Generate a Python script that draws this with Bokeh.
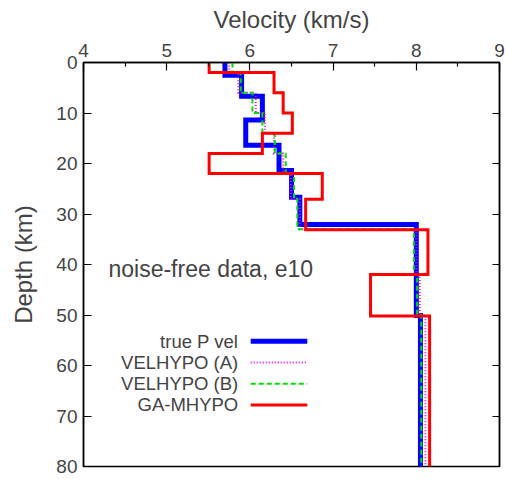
from bokeh.plotting import figure
from bokeh.models import Range1d, LinearAxis, Label, FixedTicker, CustomJSTickFormatter
from bokeh.embed import file_html
from bokeh.resources import INLINE

# ---- data (depth boundaries in km, layer velocities in km/s) ----
true_bounds = [0, 2.5, 6.7, 11.4, 16.4, 21.4, 26.7, 32.1, 50.1, 80]
true_vel = [5.70, 5.90, 6.15, 5.95, 6.35, 6.50, 6.60, 8.00, 8.05]

velA_bounds = [0, 2, 6, 10, 14, 18, 22, 27, 33, 42, 50, 80]
velA_vel = [5.75, 5.86, 6.07, 6.18, 6.29, 6.40, 6.49, 6.60, 8.00, 8.04, 8.11]

velB_bounds = [0, 2, 6, 10, 14, 18, 22, 27, 33, 42, 50, 80]
velB_vel = [5.79, 5.89, 6.03, 6.15, 6.30, 6.43, 6.53, 6.57, 7.97, 8.01, 8.06]

ga_bounds = [0, 2, 6, 10, 14, 18, 22, 27.1, 33.1, 42, 50.2, 80]
ga_vel = [5.51, 6.29, 6.40, 6.51, 6.15, 5.51, 6.87, 6.67, 8.14, 7.45, 8.16]

x_ticks = [4, 5, 6, 7, 8, 9]
x_minor = [4.5, 5.5, 6.5, 7.5, 8.5]
y_ticks = [0, 10, 20, 30, 40, 50, 60, 70, 80]

FONT = "Liberation Sans"


def steps(bounds, vels):
    xs, ys = [], []
    for i, v in enumerate(vels):
        xs += [v, v]
        ys += [bounds[i], bounds[i + 1]]
    return xs, ys


p = figure(width=506, height=476, output_backend="svg", toolbar_location=None,
           x_range=Range1d(4, 9), y_range=Range1d(80, 0),
           x_axis_location="above", min_border_left=83, min_border_right=7,
           min_border_top=62, min_border_bottom=10)
p.grid.visible = False
p.outline_line_color = "black"
p.outline_line_width = 1.5
p.background_fill_color = "white"
p.border_fill_color = "white"

xa = p.xaxis[0]
xa.ticker = FixedTicker(ticks=x_ticks, minor_ticks=x_minor)
xa.axis_label = "Velocity (km/s)"
ya = p.yaxis[0]
ya.ticker = FixedTicker(ticks=y_ticks)
ya.axis_label = "Depth (km)"
for ax in (xa, ya):
    ax.axis_label_text_font = FONT
    ax.axis_label_text_font_size = "24px"
    ax.axis_label_text_font_style = "normal"
    ax.major_label_text_font = FONT
    ax.major_label_text_font_size = "19px"
    ax.major_tick_in = 8
    ax.major_tick_out = 0
    ax.minor_tick_in = 4
    ax.minor_tick_out = 0
    ax.axis_line_width = 1.5
    ax.major_tick_line_width = 1.2
    ax.minor_tick_line_width = 1.2
    ax.major_label_standoff = 6
    ax.axis_label_standoff = 8
ya.minor_tick_line_color = None
ya.axis_label_standoff = 16

# mirrored right axis with ticks only
ra = LinearAxis(ticker=FixedTicker(ticks=y_ticks),
                formatter=CustomJSTickFormatter(code="return ''"),
                major_tick_in=7, major_tick_out=0, minor_tick_line_color=None,
                axis_line_width=1.5, major_tick_line_width=1.2, major_label_standoff=0)
p.add_layout(ra, "right")

series = [
    ("true P vel", true_bounds, true_vel, "#0000ff", 5, "solid"),
    ("VELHYPO (A)", velA_bounds, velA_vel, "#ff00ff", 2, "1 2"),
    ("VELHYPO (B)", velB_bounds, velB_vel, "#00e000", 2, "5 3"),
    ("GA-MHYPO", ga_bounds, ga_vel, "#ff0000", 3, "solid"),
]
for name, b, v, c, w, d in series:
    xs, ys = steps(b, v)
    p.line(xs, ys, line_color=c, line_width=w, line_dash=d, line_join="miter")

# custom legend (gnuplot style: text then sample)
leg_text_x = 5.86
leg_x0, leg_x1 = 6.01, 6.69
leg_y0, leg_dy = 55.2, 4.2
for i, (name, b, v, c, w, d) in enumerate(series):
    yy = leg_y0 + i * leg_dy
    p.add_layout(Label(x=leg_text_x, y=yy, text=name, text_align="right",
                       text_baseline="middle", text_font=FONT, text_font_size="18.5px"))
    p.line([leg_x0, leg_x1], [yy, yy], line_color=c, line_width=w, line_dash=d)

p.add_layout(Label(x=4.30, y=40.8, text="noise-free data, e10", text_align="left",
                   text_baseline="middle", text_font=FONT, text_font_size="23px"))

open("out.html", "w").write(file_html(p, INLINE))
